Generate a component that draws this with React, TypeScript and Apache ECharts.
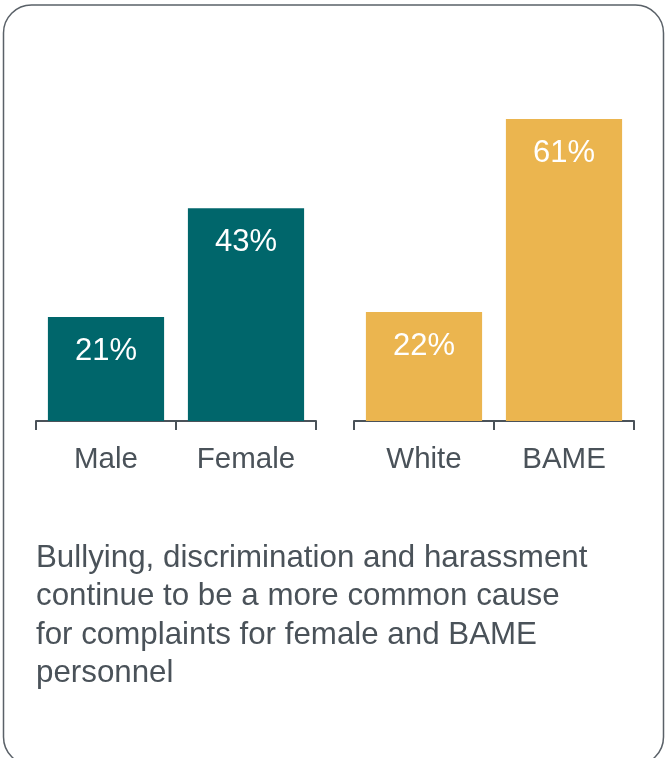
import React, { useEffect, useRef } from "react";
import * as echarts from "echarts";

const genderCategories = ["Male", "Female"];
const genderValues = [21, 43];
const ethnicityCategories = ["White", "BAME"];
const ethnicityValues = [22, 61];
const captionLines = [
  "Bullying, discrimination and harassment",
  "continue to be a more common cause",
  "for complaints for female and BAME",
  "personnel",
];

const TEAL = "#00666b";
const GOLD = "#ebb54f";
const GREY = "#4a5259";
const FONT = "Liberation Sans, Arial, sans-serif";

export default function App() {
  const ref = useRef<HTMLDivElement>(null);
  useEffect(() => {
    const chart = echarts.init(ref.current!, null, { renderer: "svg" });
    const axisCommon = {
      type: "category" as const,
      axisLine: { show: true, lineStyle: { color: GREY, width: 2 } },
      axisTick: { show: true, length: 9, lineStyle: { color: GREY, width: 2 } },
      axisLabel: { color: GREY, fontSize: 29.5, fontFamily: FONT, margin: 21 },
    };
    const yCommon = { type: "value" as const, min: 0, max: 70, show: false, splitLine: { show: false } };
    const labelCommon = {
      show: true,
      position: "insideTop" as const,
      distance: 16.5,
      color: "#ffffff",
      fontSize: 31,
      fontFamily: FONT,
      formatter: "{c}%",
    };
    chart.setOption({
      animation: false,
      grid: [
        { left: 36, width: 280, top: 74.5, height: 346.5 },
        { left: 354, width: 280, top: 74.5, height: 346.5 },
      ],
      xAxis: [
        { ...axisCommon, gridIndex: 0, data: genderCategories },
        { ...axisCommon, gridIndex: 1, data: ethnicityCategories },
      ],
      yAxis: [
        { ...yCommon, gridIndex: 0 },
        { ...yCommon, gridIndex: 1 },
      ],
      series: [
        {
          type: "bar",
          xAxisIndex: 0,
          yAxisIndex: 0,
          data: genderValues,
          barWidth: "83%",
          itemStyle: { color: TEAL },
          label: labelCommon,
        },
        {
          type: "bar",
          xAxisIndex: 1,
          yAxisIndex: 1,
          data: ethnicityValues,
          barWidth: "83%",
          itemStyle: { color: GOLD },
          label: labelCommon,
        },
      ],
      graphic: [
        {
          type: "rect",
          shape: { x: 3.5, y: 5, width: 660, height: 760, r: 28 },
          style: { fill: "none", stroke: "#5a6168", lineWidth: 1.5 },
          z: 0,
        },
        {
          type: "text",
          left: 36,
          top: 537,
          style: {
            text: captionLines.join("\n"),
            fill: GREY,
            fontSize: 31.3,
            lineHeight: 38.5,
            fontFamily: FONT,
          },
        },
      ],
    });
    return () => chart.dispose();
  }, []);
  return (
    <div
      ref={ref}
      style={{ position: "fixed", left: 0, top: 0, width: 665, height: 758 }}
    />
  );
}
